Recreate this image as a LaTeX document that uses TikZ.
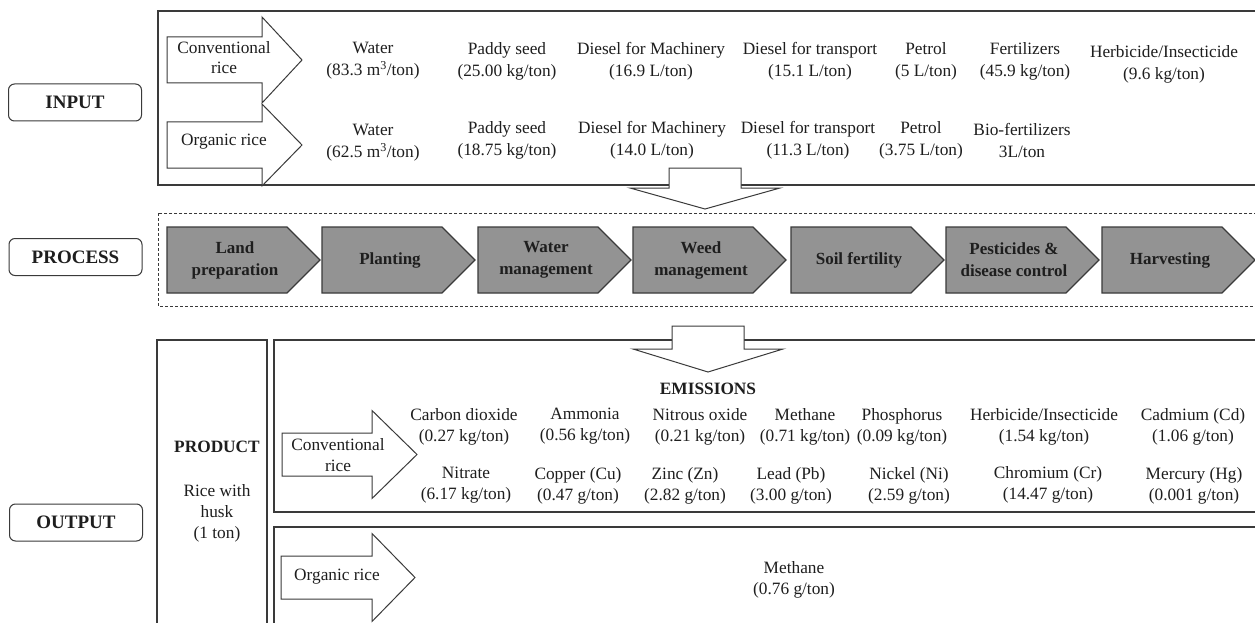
\documentclass[tikz,border=0pt]{standalone}
\usepackage{fontspec}
\setmainfont{Liberation Serif}
\definecolor{lc}{HTML}{3A3A3A}
\definecolor{tc}{HTML}{1E1E1E}
\definecolor{chevfill}{HTML}{939393}
\newcommand\blockright[7]{% name, x0, yc, shaft half, xhead, head half, tip x
  \draw[blk] (#2,#3-#4) -- (#5,#3-#4) -- (#5,#3-#6) -- (#7,#3) -- (#5,#3+#6) -- (#5,#3+#4) -- (#2,#3+#4) -- cycle;
  \coordinate (#1) at (#7,#3);}
\newcommand\blockdown[7]{% name, xc, ytop, shaft half, ywing, wing half, ytip
  \draw[blk] (#2-#4,#3) -- (#2+#4,#3) -- (#2+#4,#5) -- (#2+#6,#5) -- (#2,#7) -- (#2-#6,#5) -- (#2-#4,#5) -- cycle;
  \coordinate (#1) at (#2,#7);}
\newcommand\chev[3]{% name, x, text
  \draw[chevst] (#2,227) -- (#2+120,227) -- (#2+153,260) -- (#2+120,293) -- (#2,293) -- cycle;
  \node[chevtxt] (#1) at (#2+68,260) {#3};}
\begin{document}
\begin{tikzpicture}[x=1pt,y=-1pt,
  box/.style={draw=lc, line width=1.1pt},
  blk/.style={draw=lc, line width=1pt, fill=white},
  chevst/.style={draw=lc, line width=1.1pt, fill=chevfill},
  lab/.style={draw=lc, line width=1pt, rounded corners=6pt, minimum width=133pt, minimum height=37pt, inner sep=0pt, font=\fontsize{19}{21}\selectfont\bfseries, text=tc},
  intxt/.style={align=center, font=\fontsize{17.3}{22}\selectfont, text=tc, inner sep=0pt},
  outxt/.style={align=center, font=\fontsize{17.3}{21}\selectfont, text=tc, inner sep=0pt},
  boldtxt/.style={align=center, font=\fontsize{17.3}{21}\selectfont\bfseries, text=tc, inner sep=0pt},
  chevtxt/.style={align=center, font=\fontsize{17}{22}\selectfont\bfseries, text=tc, inner sep=0pt},
]
\useasboundingbox (0,0) rectangle (1255,623);
\fill[white] (0,0) rectangle (1255,623);
\clip (0,0) rectangle (1255,623);

% side labels
\node[lab] (input) at (75,102.5) {INPUT};
\node[lab] (process) at (75.5,257) {PROCESS};
\node[lab] (output) at (76,522.5) {OUTPUT};

% ---------- INPUT ----------
\draw[box] (158,11) rectangle (1262,185);
\blockright{convIn}{167}{60}{23}{262}{43}{302}
\node[intxt, font=\fontsize{17.3}{20}\selectfont] (convInT) at (224,58) {Conventional\\rice};
\blockright{orgIn}{167}{145}{23}{262}{41}{302}
\node[intxt] (orgInT) at (224,142) {Organic rice};

\node[intxt] (c1) at (373,61) {Water\\(83.3 m\textsuperscript{3}/ton)};
\node[intxt] (c2) at (507,61) {Paddy seed\\(25.00 kg/ton)};
\node[intxt] (c3) at (651,61) {Diesel for Machinery\\(16.9 L/ton)};
\node[intxt] (c4) at (810,61) {Diesel for transport\\(15.1 L/ton)};
\node[intxt] (c5) at (926,61) {Petrol\\(5 L/ton)};
\node[intxt] (c6) at (1025,61) {Fertilizers\\(45.9 kg/ton)};
\node[intxt] (c7) at (1164,64.5) {Herbicide/Insecticide\\(9.6 kg/ton)};

\node[intxt] (o1) at (373,142.5) {Water\\(62.5 m\textsuperscript{3}/ton)};
\node[intxt] (o2) at (507,140.5) {Paddy seed\\(18.75 kg/ton)};
\node[intxt] (o3) at (652,140.5) {Diesel for Machinery\\(14.0 L/ton)};
\node[intxt] (o4) at (808,140.5) {Diesel for transport\\(11.3 L/ton)};
\node[intxt] (o5) at (921,140.5) {Petrol\\(3.75 L/ton)};
\node[intxt] (o6) at (1022,140.5) {Bio-fertilizers\\3L/ton};

\blockdown{down1}{705}{168}{36}{188}{75}{209}

% ---------- PROCESS ----------
\draw[lc, line width=0.9pt, dash pattern=on 3pt off 2pt] (158,213) rectangle (1262,306);
\chev{p1}{167}{Land\\preparation}
\chev{p2}{322}{Planting}
\chev{p3}{478}{Water\\management}
\chev{p4}{633}{Weed\\management}
\chev{p5}{791}{Soil fertility}
\chev{p6}{946}{Pesticides \&\\disease control}
\chev{p7}{1102}{Harvesting}

% ---------- OUTPUT ----------
\draw[box] (157,630) -- (157,340) -- (267,340) -- (267,630);
\node[boldtxt] (product) at (217,447) {PRODUCT};
\node[outxt] (rice) at (217,513) {Rice with\\husk\\(1 ton)};

\draw[box] (274,340) rectangle (1262,512);
\draw[box] (274,630) -- (274,527) -- (1262,527);

\blockdown{down2}{708}{326}{36}{349}{75}{372}
\node[boldtxt] (emis) at (708,389) {EMISSIONS};

\blockright{convOut}{282}{454.5}{21.5}{372}{44}{417}
\node[outxt] (convOutT) at (338,455) {Conventional\\rice};
\blockright{orgOut}{281}{577.5}{21.5}{372}{44}{415}
\node[outxt] (orgOutT) at (337,577) {Organic rice};

\node[outxt] (e1) at (464,426.5) {Carbon dioxide\\(0.27 kg/ton)};
\node[outxt] (e2) at (585,426.5) {Ammonia\\(0.56 kg/ton)};
\node[outxt] (e3) at (700,426.5) {Nitrous oxide\\(0.21 kg/ton)};
\node[outxt] (e4) at (805,426.5) {Methane\\(0.71 kg/ton)};
\node[outxt] (e5) at (902,426.5) {Phosphorus\\(0.09 kg/ton)};
\node[outxt] (e6) at (1044,426.5) {Herbicide/Insecticide\\(1.54 kg/ton)};
\node[outxt] (e7) at (1193,426.5) {Cadmium (Cd)\\(1.06 g/ton)};

\node[outxt] (f1) at (466,485.5) {Nitrate\\(6.17 kg/ton)};
\node[outxt] (f2) at (578,485.5) {Copper (Cu)\\(0.47 g/ton)};
\node[outxt] (f3) at (685,485.5) {Zinc (Zn)\\(2.82 g/ton)};
\node[outxt] (f4) at (791,485.5) {Lead (Pb)\\(3.00 g/ton)};
\node[outxt] (f5) at (909,485.5) {Nickel (Ni)\\(2.59 g/ton)};
\node[outxt] (f6) at (1048,485) {Chromium (Cr)\\(14.47 g/ton)};
\node[outxt] (f7) at (1194,485.5) {Mercury (Hg)\\(0.001 g/ton)};

\node[outxt] (m1) at (794,580) {Methane\\(0.76 g/ton)};
\end{tikzpicture}
\end{document}
